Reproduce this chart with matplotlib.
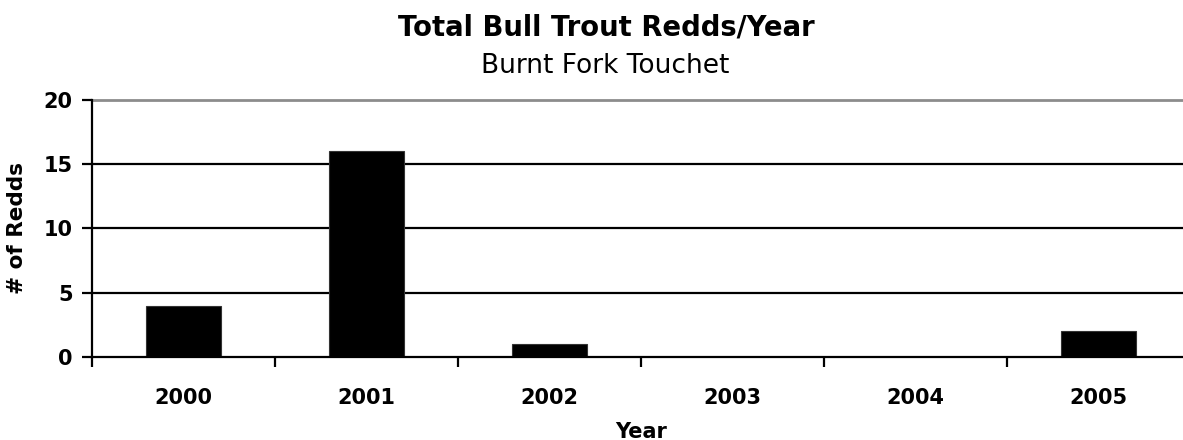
import numpy as np
import matplotlib.pyplot as plt

years = ['2000', '2001', '2002', '2003', '2004', '2005']
redds = [4, 16, 1, 0, 0, 2]
y_ticks = [0, 5, 10, 15, 20]

plt.rcParams['font.family'] = ['DejaVu Sans']

W, H = 1183, 440
fig = plt.figure(figsize=(W / 100, H / 100), dpi=100)
ax = fig.add_axes([92 / W, 83 / H, 1098 / W, 257 / H])

x = np.arange(len(years))
ax.bar(x, redds, width=0.415, color='black', edgecolor='#333333', linewidth=0.8, zorder=3)

ax.set_xlim(-0.5, len(years) - 0.5)
ax.set_ylim(0, 20)

# horizontal grid: black lines, top one gray
for v in y_ticks[1:-1]:
    ax.axhline(v, color='black', linewidth=1.6, zorder=1)
ax.axhline(20, color='#8c8c8c', linewidth=2.0, zorder=1, clip_on=False)

for side in ['top', 'right']:
    ax.spines[side].set_visible(False)
for side in ['left', 'bottom']:
    ax.spines[side].set_linewidth(1.6)
    ax.spines[side].set_zorder(4)

ax.set_yticks(y_ticks)
ax.set_yticklabels([str(v) for v in y_ticks], fontsize=15, fontweight='bold')
ax.tick_params(axis='y', length=7, width=1.6, pad=7)

# category ticks sit on boundaries, labels centered in each category
ax.set_xticks(np.arange(len(years) + 1) - 0.5)
ax.set_xticklabels([])
ax.set_xticks(x, minor=True)
ax.set_xticklabels(years, minor=True, fontsize=15, fontweight='bold')
ax.tick_params(axis='x', which='major', length=7, width=1.6, direction='out')
ax.tick_params(axis='x', which='minor', length=0, pad=22)

fig.text(17 / W, 1 - 228.5 / H, '# of Redds', rotation=90, ha='center', va='center',
         fontsize=15.5, fontweight='bold')
fig.text(641 / W, 2.5 / H, 'Year', ha='center', va='baseline',
         fontsize=15, fontweight='bold')

fig.text(606 / W, 1 - 35 / H, 'Total Bull Trout Redds/Year', ha='center', va='baseline',
         fontsize=19.8, fontweight='bold')
fig.text(605 / W, 1 - 73 / H, 'Burnt Fork Touchet', ha='center', va='baseline', fontsize=19)

fig.savefig('out.png', dpi=100)
